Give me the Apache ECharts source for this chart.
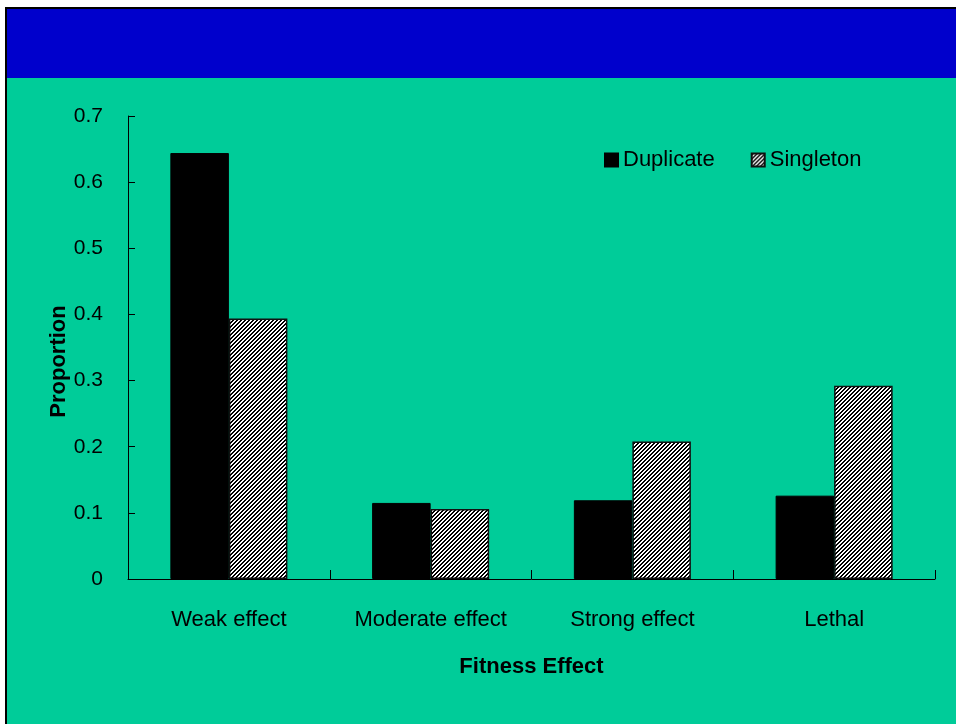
<!DOCTYPE html>
<html>
<head>
<meta charset="utf-8">
<script src="https://cdn.jsdelivr.net/npm/echarts@6/dist/echarts.min.js"></script>
<style>
  html, body { margin: 0; padding: 0; background: #ffffff; }
  #chart { width: 956px; height: 724px; }
</style>
</head>
<body>
<div id="chart"></div>
<script>
// Categories and series values
const categories = ['Weak effect', 'Moderate effect', 'Strong effect', 'Lethal'];
const duplicate = [0.644, 0.115, 0.119, 0.126];
const singleton = [0.394, 0.106, 0.208, 0.292];
const yTicks = ['0', '0.1', '0.2', '0.3', '0.4', '0.5', '0.6', '0.7'];

const FONT = '"Liberation Sans Narrow", "Arial Narrow", "Liberation Sans", Arial, sans-serif';

// Diagonal "/" hatch tile for the Singleton bars
function makeHatch() {
  const c = document.createElement('canvas');
  c.width = 4; c.height = 4;
  const ctx = c.getContext('2d');
  const img = ctx.createImageData(4, 4);
  for (let y = 0; y < 4; y++) {
    for (let x = 0; x < 4; x++) {
      const k = (x + y) % 4;
      const v = (k === 0 || k === 1) ? 0 : 255;
      const i = (y * 4 + x) * 4;
      img.data[i] = v; img.data[i + 1] = v; img.data[i + 2] = v; img.data[i + 3] = 255;
    }
  }
  ctx.putImageData(img, 0, 0);
  return c;
}
const hatch = { image: makeHatch(), repeat: 'repeat' };

const chart = echarts.init(document.getElementById('chart'), null, { renderer: 'canvas' });

chart.setOption({
  backgroundColor: '#ffffff',
  animation: false,
  graphic: [
    { type: 'rect', z: -10, silent: true,
      shape: { x: 5, y: 7, width: 960, height: 730 },
      style: { fill: '#000000' } },
    { type: 'rect', z: -9, silent: true,
      shape: { x: 7, y: 9, width: 960, height: 730 },
      style: { fill: '#00CC99' } },
    { type: 'rect', z: -8, silent: true,
      shape: { x: 7, y: 9, width: 960, height: 69 },
      style: { fill: '#0000CC' } }
  ],
  legend: {
    left: 604, top: 149,
    padding: 0,
    icon: 'rect',
    itemWidth: 13, itemHeight: 13,
    itemGap: 36,
    textStyle: { fontFamily: FONT, fontSize: 22, color: '#000000' },
    data: ['Duplicate', 'Singleton']
  },
  grid: { left: 128, right: 21, top: 116, bottom: 145 },
  xAxis: {
    type: 'category',
    data: categories,
    name: 'Fitness Effect',
    nameLocation: 'middle',
    nameGap: 77,
    nameMoveOverlap: false,
    nameTextStyle: { fontFamily: FONT, fontSize: 22, fontWeight: 'bold', color: '#000000' },
    axisLine: { lineStyle: { color: '#000000', width: 1 } },
    axisTick: { show: true, inside: true, length: 9, interval: 0, lineStyle: { color: '#000000' } },
    axisLabel: { interval: 0, margin: 30, fontFamily: FONT, fontSize: 22, color: '#000000' }
  },
  yAxis: {
    type: 'value',
    min: 0, max: 0.7, interval: 0.1,
    name: 'Proportion',
    nameLocation: 'middle',
    nameGap: 58,
    nameMoveOverlap: false,
    nameTextStyle: {
      fontFamily: FONT, fontSize: 22, fontWeight: 'bold', color: '#000000',
      padding: [0, 28, 0, 0]
    },
    axisLine: { show: true, lineStyle: { color: '#000000', width: 1 } },
    axisTick: { show: true, inside: true, length: 7, lineStyle: { color: '#000000' } },
    axisLabel: {
      margin: 25, fontFamily: FONT, fontSize: 21, color: '#000000',
      formatter: (v) => yTicks[Math.round(v * 10)]
    },
    splitLine: { show: false }
  },
  series: [
    {
      name: 'Duplicate',
      type: 'bar',
      data: duplicate,
      barGap: '0%',
      barCategoryGap: '42%',
      itemStyle: { color: '#000000', borderColor: '#000000', borderWidth: 1 }
    },
    {
      name: 'Singleton',
      type: 'bar',
      data: singleton,
      itemStyle: { color: hatch, borderColor: '#111111', borderWidth: 1.5 }
    }
  ]
});
</script>
</body>
</html>
